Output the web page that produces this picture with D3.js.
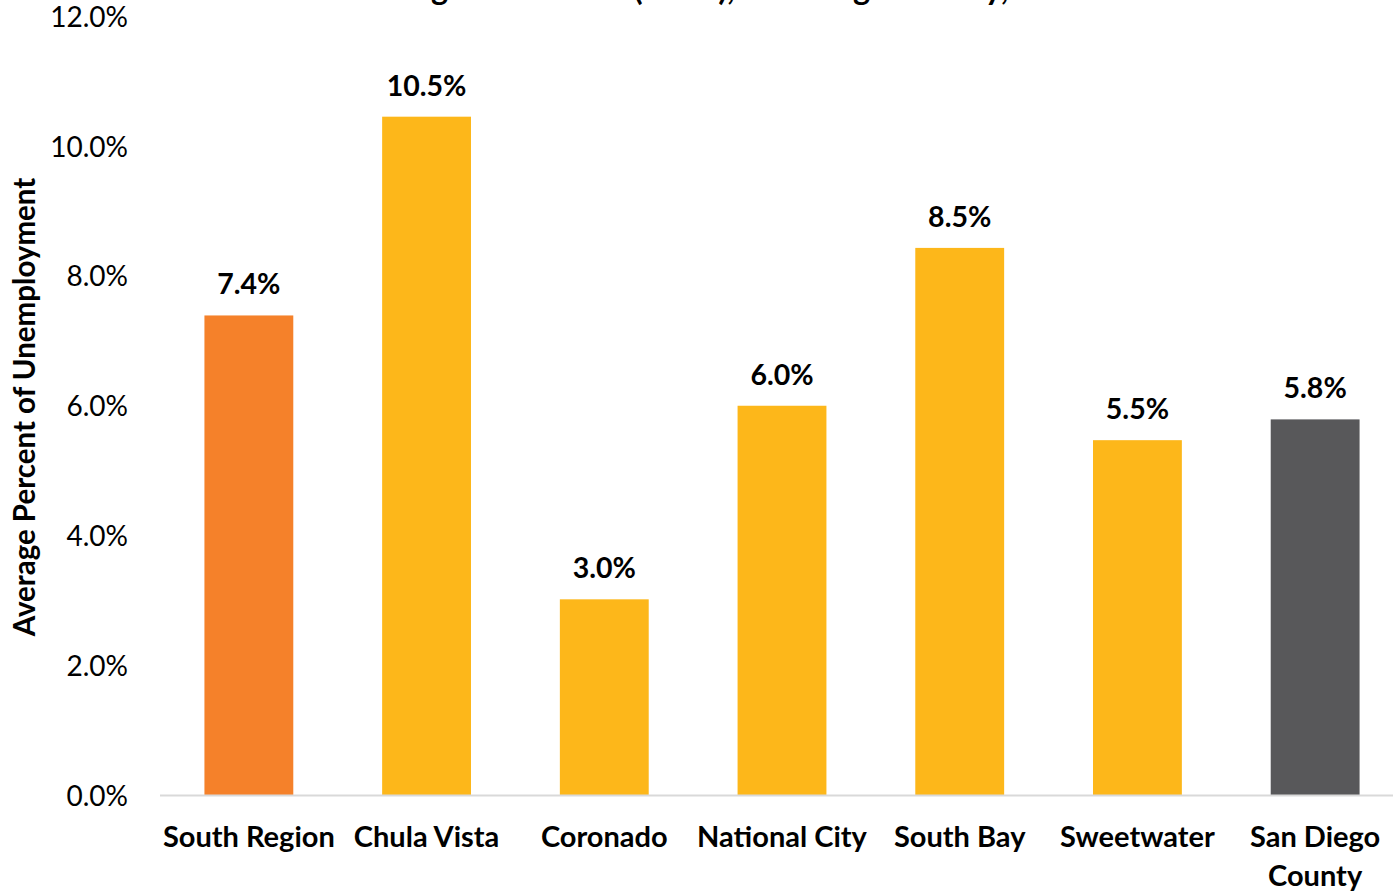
<!DOCTYPE html>
<html>
<head>
<meta charset="utf-8">
<script src="https://cdn.jsdelivr.net/npm/d3@7"></script>
<style>
  body { margin: 0; background: #fff; overflow: hidden; }
  text { font-family: Lato, "Open Sans", sans-serif; }
</style>
</head>
<body>
<div id="chart"></div>
<script>
// data
const categories = ["South Region", "Chula Vista", "Coronado", "National City", "South Bay", "Sweetwater", "San Diego County"];
const values = [7.39, 10.45, 3.02, 6.0, 8.43, 5.47, 5.79];
const valueLabels = ["7.4%", "10.5%", "3.0%", "6.0%", "8.5%", "5.5%", "5.8%"];
const barColors = ["#F5812A", "#FDB71A", "#FDB71A", "#FDB71A", "#FDB71A", "#FDB71A", "#58585A"];
const yTicks = [0, 2, 4, 6, 8, 10, 12];
const titleText = "Among Labor Force (2015), San Diego County, 2015";
const yTitle = "Average Percent of Unemployment";

const width = 1393, height = 893;
const margin = {top: 16, left: 160, bottom: 893 - 795.5};

const svg = d3.select("#chart").append("svg")
  .attr("width", width)
  .attr("height", height);

const x = d3.scaleBand()
  .domain(categories)
  .range([margin.left, 1404])
  .paddingInner(0.5)
  .paddingOuter(0.25);

const y = d3.scaleLinear()
  .domain([0, 12])
  .range([height - margin.bottom, margin.top]);

// title, cut off at the top of the picture like the original
svg.append("text")
  .attr("x", 718)
  .attr("y", 0)
  .attr("text-anchor", "middle")
  .style("font-size", "32.5px")
  .style("font-weight", "bold")
  .text(titleText);

// y axis tick labels (no axis line)
const yAxis = svg.append("g")
  .attr("transform", "translate(" + (margin.left - 29) + ",0)")
  .call(d3.axisLeft(y).tickValues(yTicks).tickSize(0).tickFormat(d => d.toFixed(1) + "%"));
yAxis.select(".domain").remove();
yAxis.selectAll("text")
  .style("font-family", "Lato, sans-serif")
  .style("font-size", "28px")
  .attr("dy", "0.36em")
  .attr("fill", "#000");

// bars
svg.append("g").selectAll("rect")
  .data(values)
  .enter().append("rect")
  .attr("x", (d, i) => x(categories[i]))
  .attr("y", d => y(d))
  .attr("width", x.bandwidth())
  .attr("height", d => y(0) - y(d))
  .attr("fill", (d, i) => barColors[i]);

// baseline
svg.append("line")
  .attr("x1", margin.left)
  .attr("x2", width)
  .attr("y1", y(0))
  .attr("y2", y(0))
  .attr("stroke", "#D9D9D9")
  .attr("stroke-width", 2);

// value labels
svg.append("g").selectAll("text")
  .data(values)
  .enter().append("text")
  .attr("x", (d, i) => x(categories[i]) + x.bandwidth() / 2)
  .attr("y", d => y(d) - 21)
  .attr("text-anchor", "middle")
  .style("font-size", "28.5px")
  .style("font-weight", "bold")
  .text((d, i) => valueLabels[i]);

// category labels, wrapped like the original
const catLines = {"San Diego County": ["San Diego", "County"]};
const cat = svg.append("g").selectAll("text")
  .data(categories)
  .enter().append("text")
  .attr("x", d => x(d) + x.bandwidth() / 2)
  .attr("y", 847)
  .attr("text-anchor", "middle")
  .style("font-size", "29px")
  .style("font-weight", "bold");
cat.each(function (d) {
  const lines = catLines[d] || [d];
  d3.select(this).selectAll("tspan")
    .data(lines)
    .enter().append("tspan")
    .attr("x", x(d) + x.bandwidth() / 2)
    .attr("dy", (l, i) => i === 0 ? 0 : 39)
    .text(l => l);
});

// y axis title
svg.append("text")
  .attr("transform", "translate(35," + 407 + ") rotate(-90)")
  .attr("text-anchor", "middle")
  .style("font-size", "29.5px")
  .style("font-weight", "bold")
  .text(yTitle);
</script>
</body>
</html>
